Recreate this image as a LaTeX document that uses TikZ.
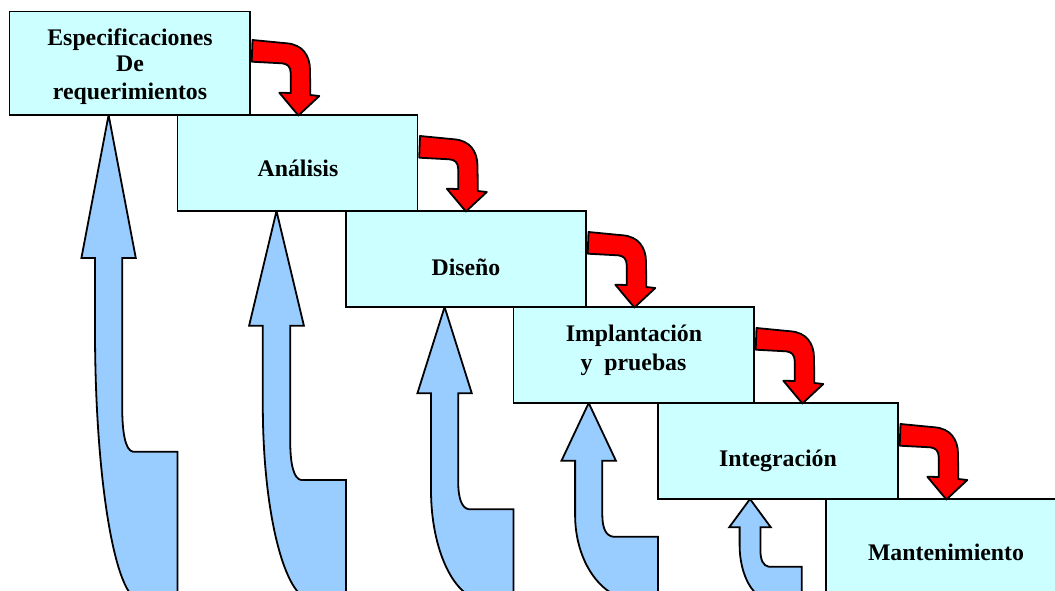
\documentclass[tikz,border=0pt]{standalone}
\usepackage{fontspec}
\setmainfont{Liberation Serif}
\definecolor{boxfill}{HTML}{CCFFFF}
\definecolor{arrowblue}{HTML}{99CCFF}
\definecolor{arrowred}{HTML}{FF0000}
\newcommand{\bluearrow}[9]{% tx ty hb sw iy ih L y0 a
  \draw[bluearr] (#1,#2) -- ({#1+2*#4},#3) -- ({#1+#4},#3) -- ({#1+#4},{#5-#6})
   .. controls ({#1+#4},{#5-0.4*#6}) and ({#1+1.25*#4},{#5-1}) .. ({#1+1.8*#4},#5)
   -- (#7,#5) -- (#7,600) -- ({#1-#4+#9},600)
   .. controls ({#1-#4+0.448*#9},600) and ({#1-#4},{#8+0.552*(600-#8)}) .. ({#1-#4},#8)
   -- ({#1-#4},#3) -- ({#1-2*#4},#3) -- cycle;}
\begin{document}
\begin{tikzpicture}[x=1pt,y=-1pt,
  box/.style={draw=black, line width=1.9pt, fill=boxfill, rectangle, inner sep=0pt, outer sep=0pt},
  lbl/.style={font=\fontsize{23.8}{27}\selectfont\bfseries, anchor=base, inner sep=0pt},
  redarr/.style={draw=black, line width=1.8pt, fill=arrowred, line join=round},
  bluearr/.style={draw=black, line width=1.8pt, fill=arrowblue, line join=miter}]
\useasboundingbox (0,0) rectangle (1055,590);
\clip (0,0) rectangle (1055,590);
% blue feedback arrows
\bluearrow{108.6}{115}{258}{13.6}{451.7}{45}{177.5}{330}{45}
\bluearrow{276.5}{211}{325.7}{13.7}{480}{40}{346}{405}{49}
\bluearrow{444.6}{307}{393.3}{13.6}{509.3}{28}{513.5}{490}{53}
\bluearrow{588.7}{403}{460.7}{13.6}{536.7}{22}{658}{515}{60}
\bluearrow{750}{499}{527.3}{10.4}{566.7}{17}{801.7}{545}{31}
% boxes
\node[box, minimum width=240.5pt, minimum height=103.5pt] (b1) at (129.75,63.25) {};
\node[box, minimum width=240pt, minimum height=96pt] (b2) at (297.5,163) {};
\node[box, minimum width=240pt, minimum height=96pt] (b3) at (466,259) {};
\node[box, minimum width=240.5pt, minimum height=96pt] (b4) at (633.75,355) {};
\node[box, minimum width=240pt, minimum height=96pt] (b5) at (778,451) {};
\node[box, minimum width=240pt, minimum height=101pt] (b6) at (946,549.5) {};
% labels
\node[lbl] (t1a) at (130,45) {Especificaciones};
\node[lbl] (t1b) at (130,71.7) {De};
\node[lbl] (t1c) at (130,99) {requerimientos};
\node[lbl] (t2) at (298,176) {Análisis};
\node[lbl] (t3) at (466,275) {Diseño};
\node[lbl] (t4a) at (634,341.7) {Implantación};
\node[lbl] (t4b) at (633.5,370) {y\ \ pruebas};
\node[lbl] (t5) at (778,466) {Integración};
\node[lbl] (t6) at (946,560) {Mantenimiento};
% red flow arrows
\foreach \a/\b in {b1/b2,b2/b3,b3/b4,b4/b5,b5/b6}{
  \draw[redarr, shift={(\a.north east |- \b.north)}]
    (2.5,-75) -- (36.7,-71.7) .. controls (52,-70.5) and (60,-60) .. (60,-45)
    -- (60.3,-20) -- (69.3,-19) -- (48.4,0.5) -- (29.3,-22.3) -- (40.7,-22)
    -- (40.7,-42) .. controls (40.7,-48) and (37.5,-51.5) .. (31.7,-51.7)
    -- (1.7,-53.3) -- cycle;
}
\end{tikzpicture}
\end{document}
